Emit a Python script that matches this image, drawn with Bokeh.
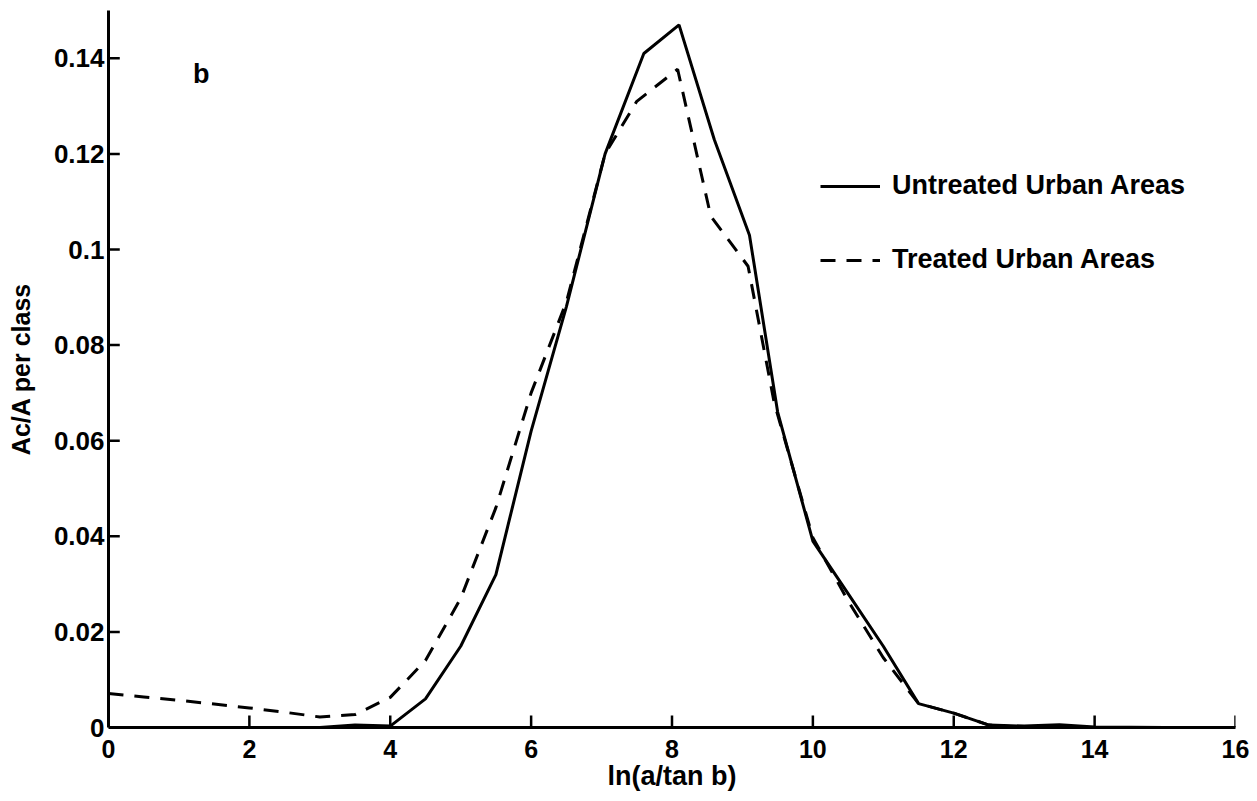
from bokeh.plotting import figure
from bokeh.models import Range1d, FixedTicker, Legend, LegendItem, Label
from bokeh.embed import file_html
from bokeh.resources import INLINE

# Untreated urban areas (solid)
untreated_x = [0, 1, 2, 3, 3.5, 4.0, 4.5, 5.0, 5.5, 6.0, 6.5, 7.05, 7.6, 8.1, 8.6, 9.1, 9.5, 10.0, 10.5, 11.0, 11.5, 12.0, 12.5, 13.0, 13.5, 14.0, 15.0, 16.0]
untreated_y = [0, 0, 0, 0, 0.0005, 0.0003, 0.006, 0.017, 0.032, 0.062, 0.088, 0.120, 0.141, 0.147, 0.123, 0.103, 0.066, 0.039, 0.028, 0.017, 0.005, 0.003, 0.0005, 0.0003, 0.0006, 0.0001, 0, 0]

# Treated urban areas (dashed)
treated_x = [0, 0.5, 1, 1.5, 2, 2.5, 3, 3.5, 4, 4.5, 5, 5.5, 6, 6.5, 7.05, 7.5, 8.08, 8.55, 9.08, 9.45, 10.0, 10.5, 11.0, 11.5, 12.0, 12.5, 13, 14, 15, 16]
treated_y = [0.0071, 0.0064, 0.0057, 0.0049, 0.0041, 0.0032, 0.0022, 0.0027, 0.0063, 0.014, 0.027, 0.046, 0.070, 0.089, 0.120, 0.131, 0.1377, 0.107, 0.0965, 0.068, 0.0397, 0.0265, 0.0146, 0.005, 0.003, 0.0005, 0, 0, 0, 0]

x_ticks = [0, 2, 4, 6, 8, 10, 12, 14, 16]
y_ticks = [0, 0.02, 0.04, 0.06, 0.08, 0.1, 0.12, 0.14]
y_tick_labels = ["0", "0.02", "0.04", "0.06", "0.08", "0.1", "0.12", "0.14"]

FONT = "Liberation Sans"
X_MIN, X_MAX = 0, 16
Y_MIN, Y_MAX = 0, 0.15
TICK_LEN_Y = 0.0025   # length of x-axis tick marks, in y units
TICK_LEN_X = 0.16     # length of y-axis tick marks, in x units

p = figure(width=1257, height=801, output_backend="svg", toolbar_location=None,
           x_range=Range1d(X_MIN, X_MAX), y_range=Range1d(Y_MIN, Y_MAX))
p.min_border_left = 108
p.min_border_right = 22
p.min_border_top = 10
p.min_border_bottom = 74
p.outline_line_color = None
p.grid.visible = False
p.background_fill_color = "white"
p.border_fill_color = "white"

for ax in (p.xaxis[0], p.yaxis[0]):
    ax.axis_line_width = 3
    ax.axis_line_color = "black"
    ax.major_tick_in = 0
    ax.major_tick_out = 0
    ax.minor_tick_line_color = None
    ax.major_label_text_font = FONT
    ax.major_label_text_font_style = "bold"
    ax.major_label_text_color = "black"
    ax.axis_label_text_font = FONT
    ax.axis_label_text_font_style = "bold"
    ax.axis_label_text_color = "black"

p.xaxis.ticker = FixedTicker(ticks=x_ticks)
p.yaxis.ticker = FixedTicker(ticks=y_ticks)
p.yaxis.major_label_overrides = dict(zip(y_ticks, y_tick_labels))
p.xaxis.axis_label = "ln(a/tan b)"
p.yaxis.axis_label = "Ac/A per class"
p.xaxis.major_label_text_font_size = "25px"
p.yaxis.major_label_text_font_size = "26px"
p.xaxis.axis_label_text_font_size = "27px"
p.yaxis.axis_label_text_font_size = "25px"
p.xaxis.major_label_standoff = 12
p.xaxis.axis_label_standoff = 0
p.yaxis.major_label_standoff = 4
p.yaxis.axis_label_standoff = 16

# inward tick marks, drawn from the tick arrays
p.segment(x0=x_ticks, y0=[Y_MIN] * len(x_ticks), x1=x_ticks, y1=[Y_MIN + TICK_LEN_Y] * len(x_ticks),
          line_color="black", line_width=2.5)
p.segment(x0=[X_MIN] * len(y_ticks), y0=y_ticks, x1=[X_MIN + TICK_LEN_X] * len(y_ticks), y1=y_ticks,
          line_color="black", line_width=2.5)

r1 = p.line(untreated_x, untreated_y, line_color="black", line_width=3)
r2 = p.line(treated_x, treated_y, line_color="black", line_width=3, line_dash="15 11")

legend = Legend(items=[LegendItem(label="Untreated Urban Areas", renderers=[r1]),
                       LegendItem(label="Treated Urban Areas", renderers=[r2])],
                location=(712, 452), orientation="vertical")
legend.glyph_width = 60
legend.glyph_height = 30
legend.label_height = 30
legend.spacing = 43
legend.padding = 0
legend.margin = 0
legend.label_standoff = 12
legend.border_line_color = None
legend.background_fill_alpha = 0
legend.label_text_font = FONT
legend.label_text_font_style = "bold"
legend.label_text_font_size = "27px"
legend.label_text_color = "black"
p.add_layout(legend)

p.add_layout(Label(x=1.2, y=0.1335, text="b", text_font=FONT, text_font_style="bold",
                   text_font_size="27px", text_color="black"))

open("out.html", "w").write(file_html(p, INLINE))
